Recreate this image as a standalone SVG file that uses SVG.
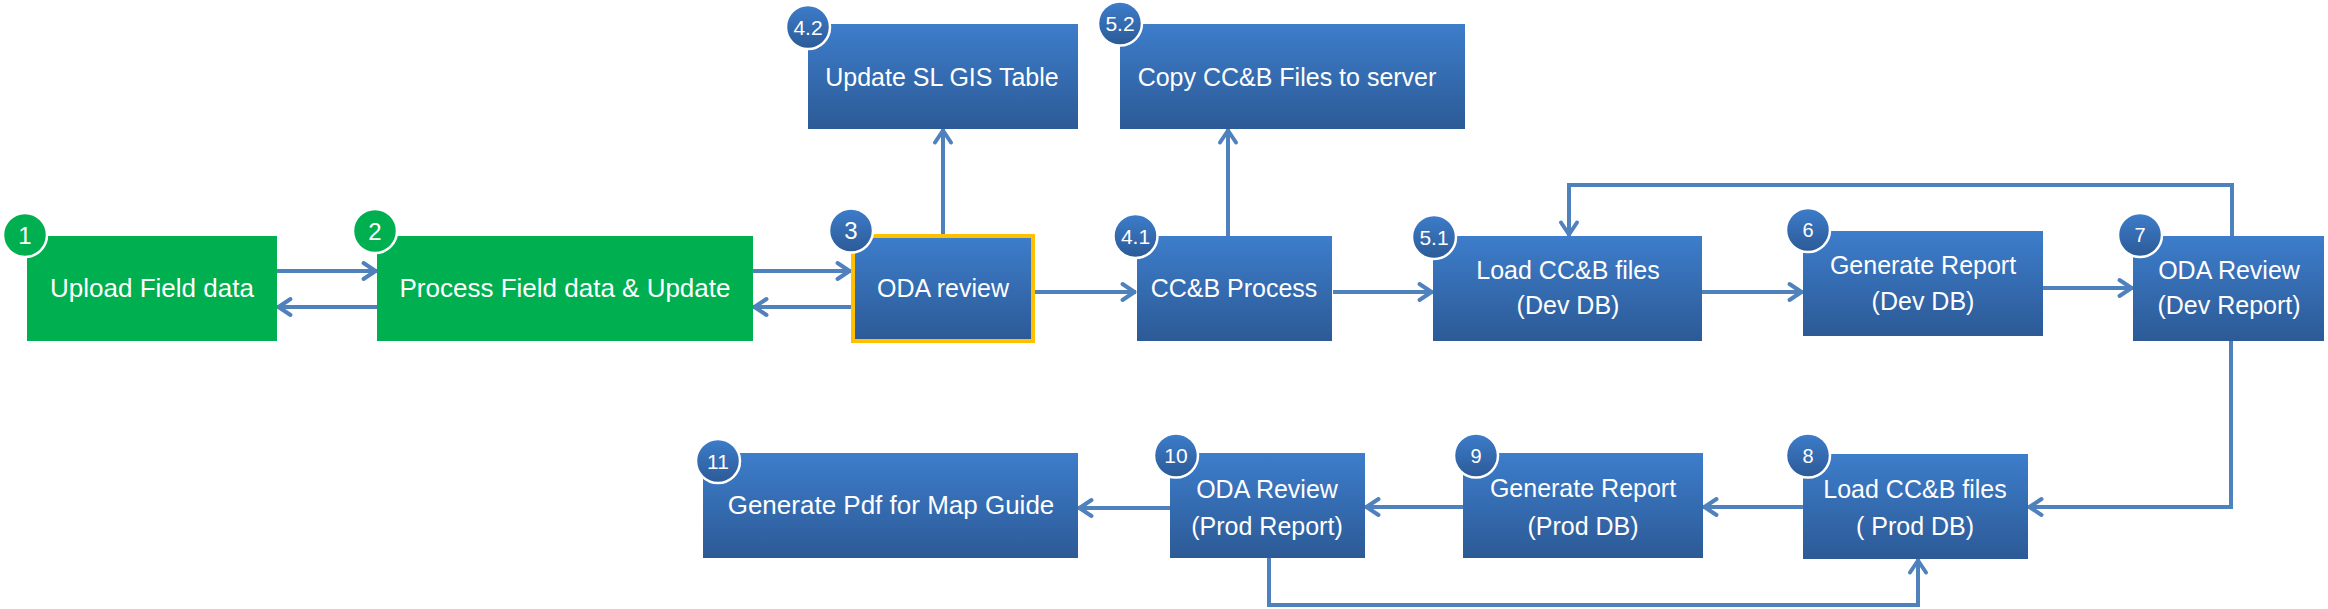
<svg xmlns="http://www.w3.org/2000/svg" width="2328" height="609" viewBox="0 0 2328 609">
<style>
.lbl{font-family:"Liberation Sans",Arial,sans-serif;font-size:25px;fill:#ffffff;text-anchor:middle}
.lg{font-size:26px}
.num{font-family:"Liberation Sans",Arial,sans-serif;fill:#ffffff;text-anchor:middle}
.g{fill:#00B050}
.b{fill:url(#blueGrad)}
.bg{fill:#00B050;stroke:#ffffff;stroke-width:2.5}
.bb{fill:url(#badgeGrad);stroke:#ffffff;stroke-width:2.5}
.c{fill:none;stroke:#4F81BD;stroke-width:4;marker-end:url(#arr)}
</style>
<defs>
<linearGradient id="blueGrad" x1="0" y1="0" x2="0" y2="1">
<stop offset="0" stop-color="#3D7DCB"/>
<stop offset="1" stop-color="#2C5A96"/>
</linearGradient>
<linearGradient id="badgeGrad" x1="0" y1="0" x2="0" y2="1">
<stop offset="0" stop-color="#3D7DCB"/>
<stop offset="1" stop-color="#2C5A96"/>
</linearGradient>
<marker id="arr" markerUnits="userSpaceOnUse" markerWidth="30" markerHeight="30" viewBox="-20 -15 30 30" refX="1.5" refY="0" orient="auto" overflow="visible">
<path d="M-12,-8 L0,0 L-12,8" fill="none" stroke="#4F81BD" stroke-width="4" stroke-linecap="round" stroke-linejoin="round"/>
</marker>
</defs>

<g id="connectors">
<path class="c" d="M277 271 H377"/>
<path class="c" d="M377 307 H277"/>
<path class="c" d="M753 271 H851"/>
<path class="c" d="M851 307 H753"/>
<path class="c" d="M943 234 V129"/>
<path class="c" d="M1035 292 H1136"/>
<path class="c" d="M1228 236 V129"/>
<path class="c" d="M1333 292 H1433"/>
<path class="c" d="M1702 292 H1803"/>
<path class="c" d="M2043 288 H2133"/>
<path class="c" d="M2232 236 V185 H1569 V236"/>
<path class="c" d="M2231 341 V507 H2028"/>
<path class="c" d="M1803 507 H1703"/>
<path class="c" d="M1463 507 H1365"/>
<path class="c" d="M1170 508 H1078"/>
<path class="c" d="M1269 558 V605 H1918 V559"/>
</g>

<g id="node-1">
<rect class="g" x="27" y="236" width="250" height="105"/>
<text class="lbl lg" x="152" y="297">Upload Field data</text>
<circle class="bg" cx="25" cy="235" r="22"/>
<text class="num" x="25" y="243.5" font-size="24">1</text>
</g>

<g id="node-2">
<rect class="g" x="377" y="236" width="376" height="105"/>
<text class="lbl lg" x="565" y="297">Process Field data &amp; Update</text>
<circle class="bg" cx="375" cy="231" r="22"/>
<text class="num" x="375" y="239.5" font-size="24">2</text>
</g>

<g id="node-3">
<rect class="b" x="853" y="236" width="180" height="105" stroke="#FFC000" stroke-width="4"/>
<text class="lbl" x="943" y="297">ODA review</text>
<circle class="bb" cx="851" cy="230.5" r="22"/>
<text class="num" x="851" y="239" font-size="24">3</text>
</g>

<g id="node-4-2">
<rect class="b" x="808" y="24" width="270" height="105"/>
<text class="lbl" x="942" y="86">Update SL GIS Table</text>
<circle class="bb" cx="808" cy="27" r="22"/>
<text class="num" x="808" y="34.5" font-size="21">4.2</text>
</g>

<g id="node-5-2">
<rect class="b" x="1120" y="24" width="345" height="105"/>
<text class="lbl" x="1287" y="86">Copy CC&amp;B Files to server</text>
<circle class="bb" cx="1120" cy="23.5" r="22"/>
<text class="num" x="1120" y="31" font-size="21">5.2</text>
</g>

<g id="node-4-1">
<rect class="b" x="1137" y="236" width="195" height="105"/>
<text class="lbl" x="1234" y="297">CC&amp;B Process</text>
<circle class="bb" cx="1135.5" cy="236" r="22"/>
<text class="num" x="1135.5" y="243.5" font-size="21">4.1</text>
</g>

<g id="node-5-1">
<rect class="b" x="1433" y="236" width="269" height="105"/>
<text class="lbl" x="1568" y="279">Load CC&amp;B files</text>
<text class="lbl" x="1568" y="314">(Dev DB)</text>
<circle class="bb" cx="1434" cy="237" r="22"/>
<text class="num" x="1434" y="244.5" font-size="21">5.1</text>
</g>

<g id="node-6">
<rect class="b" x="1803" y="231" width="240" height="105"/>
<text class="lbl" x="1923" y="274">Generate Report</text>
<text class="lbl" x="1923" y="310">(Dev DB)</text>
<circle class="bb" cx="1808" cy="230" r="22"/>
<text class="num" x="1808" y="237" font-size="20">6</text>
</g>

<g id="node-7">
<rect class="b" x="2133" y="236" width="191" height="105"/>
<text class="lbl" x="2229" y="279">ODA Review</text>
<text class="lbl" x="2229" y="314">(Dev Report)</text>
<circle class="bb" cx="2140" cy="235" r="22"/>
<text class="num" x="2140" y="242" font-size="20">7</text>
</g>

<g id="node-8">
<rect class="b" x="1803" y="454" width="225" height="105"/>
<text class="lbl" x="1915" y="498">Load CC&amp;B files</text>
<text class="lbl" x="1915" y="535">( Prod DB)</text>
<circle class="bb" cx="1808" cy="455.5" r="22"/>
<text class="num" x="1808" y="462.5" font-size="20">8</text>
</g>

<g id="node-9">
<rect class="b" x="1463" y="453" width="240" height="105"/>
<text class="lbl" x="1583" y="497">Generate Report</text>
<text class="lbl" x="1583" y="535">(Prod DB)</text>
<circle class="bb" cx="1476" cy="455.5" r="22"/>
<text class="num" x="1476" y="462.5" font-size="20">9</text>
</g>

<g id="node-10">
<rect class="b" x="1170" y="453" width="195" height="105"/>
<text class="lbl" x="1267" y="498">ODA Review</text>
<text class="lbl" x="1267" y="535">(Prod Report)</text>
<circle class="bb" cx="1176" cy="455.5" r="22"/>
<text class="num" x="1176" y="463" font-size="21">10</text>
</g>

<g id="node-11">
<rect class="b" x="703" y="453" width="375" height="105"/>
<text class="lbl lg" x="891" y="514">Generate Pdf for Map Guide</text>
<circle class="bb" cx="718" cy="461" r="22"/>
<text class="num" x="718" y="468.5" font-size="21">11</text>
</g>
</svg>
